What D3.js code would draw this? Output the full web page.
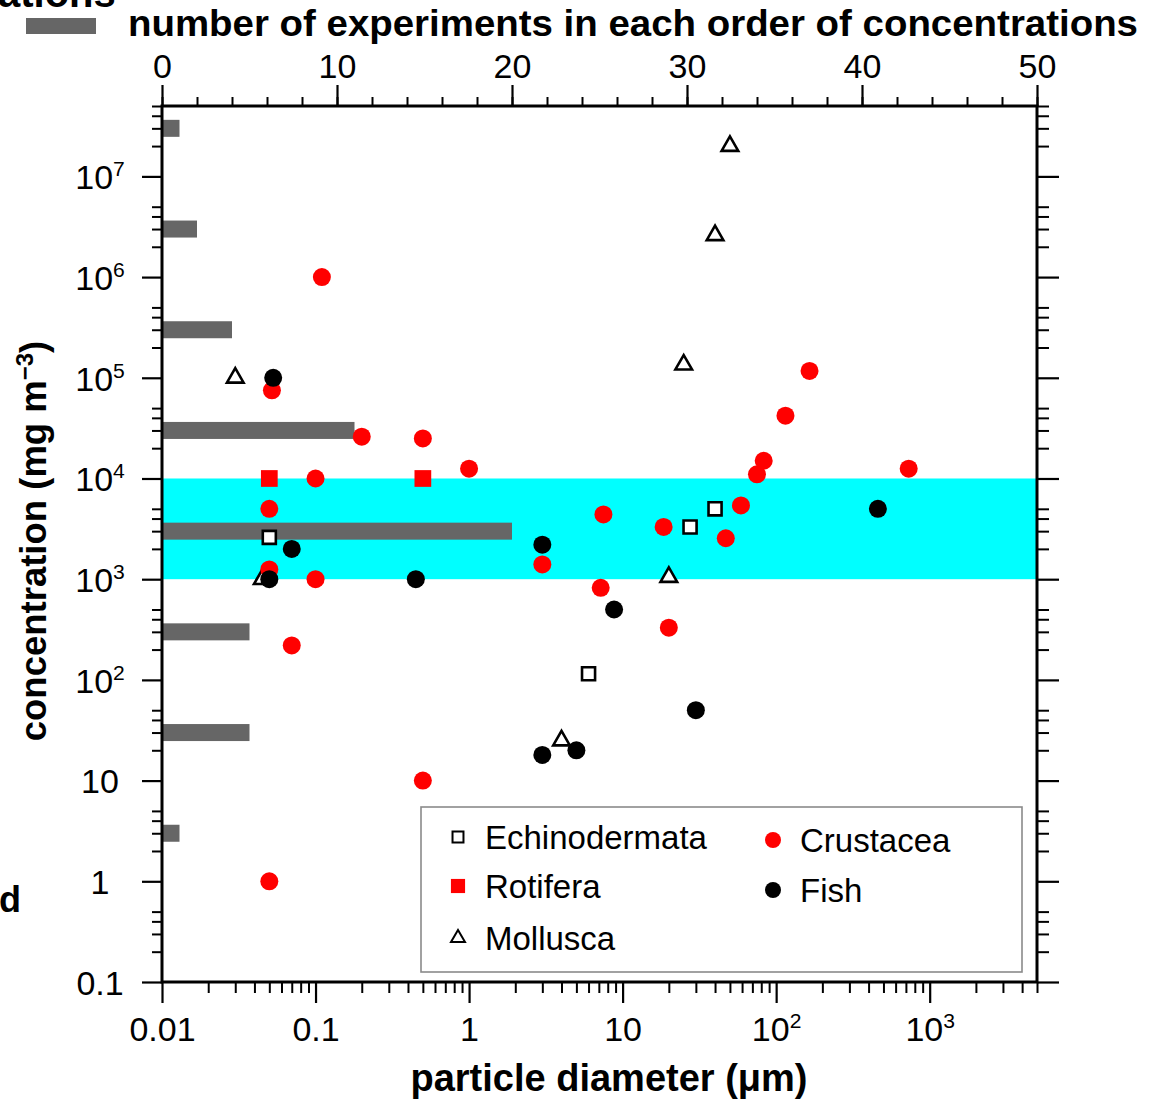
<!DOCTYPE html>
<html>
<head>
<meta charset="utf-8">
<script src="https://cdn.jsdelivr.net/npm/d3@7"></script>
<style>
  body { margin: 0; background: #fff; }
  svg { display: block; }
  text { font-family: "Liberation Sans", Arial, Helvetica, sans-serif; fill: #000; }
</style>
</head>
<body>
<div id="grafico"></div>
<script>
// bars: number of experiments per order of concentration (mg m-3)
const barConc = [3e7, 3e6, 3e5, 3e4, 3e3, 3e2, 30, 3];
const barCount = [1, 2, 4, 11, 20, 5, 5, 1];

// points: [particle diameter (um), concentration (mg m-3)]
const echinodermata = [[0.05, 2600], [6, 115], [27.5, 3300], [40, 5000]];
const rotifera = [[0.05, 1e4], [0.5, 1e4]];
const mollusca = [[0.03, 1e5], [50, 2e7], [40, 2.6e6], [25, 1.35e5], [20, 1050], [4, 25], [0.045, 1000]];
const crustacea = [[0.11, 1e6], [0.052, 7.5e4], [0.2, 2.6e4], [0.5, 2.5e4], [0.1, 1e4], [1, 1.25e4],
  [0.05, 5000], [0.05, 1250], [0.1, 1000], [0.07, 220], [0.5, 10], [0.05, 1], [3, 1400], [7.5, 4400],
  [7.2, 820], [18.5, 3300], [20, 330], [47, 2550], [59, 5400], [75, 1.1e4], [83, 1.5e4], [115, 4.2e4],
  [165, 1.17e5], [730, 1.25e4]];
const fish = [[0.053, 1e5], [0.07, 2000], [0.05, 1000], [0.45, 1000], [3, 2200], [8.8, 500], [30, 50],
  [3, 18], [5, 20], [460, 5000]];

// highlighted band
const bandRange = [1e3, 1e4];

// ticks and labels
const xTickValues = [0.01, 0.1, 1, 10, 100, 1000];
const xTickLabels = ["0.01", "0.1", "1", "10", "10^2", "10^3"];
const yTickValues = [0.1, 1, 10, 100, 1e3, 1e4, 1e5, 1e6, 1e7];
const yTickLabels = ["0.1", "1", "10", "10^2", "10^3", "10^4", "10^5", "10^6", "10^7"];
const countTicks = [0, 10, 20, 30, 40, 50];
const legendNames = ["Echinodermata", "Rotifera", "Mollusca", "Crustacea", "Fish"];

const ancho = 1155, alto = 1100;
const izq = 162, der = 1037, arriba = 106, abajo = 982;

const svg = d3.select("#grafico").append("svg")
  .attr("width", ancho)
  .attr("height", alto);

const x = d3.scaleLog().domain([0.01, 5000]).range([izq, der]);
const y = d3.scaleLog().domain([0.1, 5e7]).range([abajo, arriba]);
const xCount = d3.scaleLinear().domain([0, 50]).range([izq, der]);

// minor tick positions for log axes
const xMinor = [];
for (let d = -2; d <= 3; d++) {
  for (let k = 2; k <= 9; k++) {
    const v = +(k * Math.pow(10, d)).toPrecision(3);
    if (v <= 5000) xMinor.push(v);
  }
}
const yMinor = [];
for (let d = -1; d <= 7; d++) {
  for (let k = 2; k <= 5; k++) yMinor.push(+(k * Math.pow(10, d)).toPrecision(3));
}

// band
svg.append("rect")
  .attr("x", izq)
  .attr("y", y(bandRange[1]))
  .attr("width", der - izq)
  .attr("height", y(bandRange[0]) - y(bandRange[1]))
  .attr("fill", "#00ffff");

// bars
const barH = 17;
svg.selectAll("rect.barra")
  .data(barConc)
  .enter()
  .append("rect")
  .attr("class", "barra")
  .attr("x", izq)
  .attr("y", d => y(d) - barH / 2)
  .attr("width", (d, i) => xCount(barCount[i]) - izq)
  .attr("height", barH)
  .attr("fill", "#666666");

// helpers for labels with exponent
function ponerEtiqueta(sel, lab, size) {
  sel.text(null);
  const partes = lab.split("^");
  sel.append("tspan").text(partes[0]);
  if (partes.length > 1) {
    sel.append("tspan")
      .attr("dy", -size * 0.38)
      .attr("font-size", size * 0.62)
      .text(partes[1]);
  }
}

function estiloEje(g, w) {
  g.select(".domain").remove();
  g.selectAll("line").attr("stroke", "#000").attr("stroke-width", w);
}

const fs = 34;

// bottom axis
const gB = svg.append("g").attr("transform", `translate(0,${abajo})`);
gB.append("g").call(d3.axisBottom(x).tickValues(xMinor).tickSize(11).tickFormat("")).call(estiloEje, 2);
gB.append("g").call(d3.axisBottom(x).tickValues(xTickValues).tickSize(21)).call(estiloEje, 2.2)
  .call(g => g.selectAll("text")
    .attr("y", 59).attr("dy", 0)
    .attr("font-size", fs)
    .attr("font-family", null)
    .each(function (d, i) { ponerEtiqueta(d3.select(this), xTickLabels[i], fs); }));

// left axis
const gL = svg.append("g").attr("transform", `translate(${izq},0)`);
gL.append("g").call(d3.axisLeft(y).tickValues(yMinor).tickSize(10).tickFormat("")).call(estiloEje, 2);
gL.append("g").call(d3.axisLeft(y).tickValues(yTickValues).tickSize(20)).call(estiloEje, 2.2)
  .call(g => g.selectAll("text")
    .attr("x", -62).attr("dy", "0.36em")
    .attr("text-anchor", "middle")
    .attr("font-size", fs)
    .attr("font-family", null)
    .each(function (d, i) { ponerEtiqueta(d3.select(this), yTickLabels[i], fs); }));

// right axis
const gR = svg.append("g").attr("transform", `translate(${der},0)`);
gR.append("g").call(d3.axisRight(y).tickValues(yMinor).tickSize(12).tickFormat("")).call(estiloEje, 2);
gR.append("g").call(d3.axisRight(y).tickValues(yTickValues).tickSize(22).tickFormat("")).call(estiloEje, 2.2);

// top axis (counts)
const gT = svg.append("g").attr("transform", `translate(0,${arriba})`);
gT.append("g").call(d3.axisTop(xCount).tickValues(d3.range(0, 51, 2)).tickSize(9).tickFormat("")).call(estiloEje, 2);
gT.append("g").call(d3.axisTop(xCount).tickValues(countTicks).tickSize(21).tickPadding(7)).call(estiloEje, 2.2)
  .call(g => g.selectAll("text").attr("font-size", fs).attr("font-family", null));

// frame
svg.append("rect")
  .attr("x", izq).attr("y", arriba)
  .attr("width", der - izq).attr("height", abajo - arriba)
  .attr("fill", "none")
  .attr("stroke", "#000")
  .attr("stroke-width", 3);

// points
const sq = d3.symbol().type(d3.symbolSquare).size(170)();
const sqFill = d3.symbol().type(d3.symbolSquare).size(280)();
const tri = d3.symbol().type(d3.symbolTriangle).size(120)();

function dibujar(datos, forma, relleno, borde) {
  svg.append("g").selectAll("path")
    .data(datos)
    .enter()
    .append("path")
    .attr("d", forma)
    .attr("transform", d => `translate(${x(d[0])},${y(d[1])})`)
    .attr("fill", relleno)
    .attr("stroke", borde)
    .attr("stroke-width", borde === "none" ? 0 : 2.6);
}
function circulos(datos, color) {
  svg.append("g").selectAll("circle")
    .data(datos)
    .enter()
    .append("circle")
    .attr("cx", d => x(d[0]))
    .attr("cy", d => y(d[1]))
    .attr("r", 9)
    .attr("fill", color);
}

dibujar(mollusca, tri, "#fff", "#000");
dibujar(echinodermata, sq, "#fff", "#000");
dibujar(rotifera, sqFill, "#ff0000", "none");
circulos(crustacea, "#ff0000");
circulos(fish, "#000");

// legend box
const leg = svg.append("g");
leg.append("rect")
  .attr("x", 421).attr("y", 807)
  .attr("width", 601).attr("height", 165)
  .attr("fill", "#fff")
  .attr("stroke", "#8a8a8a")
  .attr("stroke-width", 1.6);

const legSq = d3.symbol().type(d3.symbolSquare).size(120)();
const legSqF = d3.symbol().type(d3.symbolSquare).size(200)();
const legTri = d3.symbol().type(d3.symbolTriangle).size(85)();
const legItems = [
  { px: 458, py: 837, tipo: "path", d: legSq, fill: "#fff", stroke: "#000" },
  { px: 458, py: 886, tipo: "path", d: legSqF, fill: "#ff0000", stroke: "none" },
  { px: 458, py: 938, tipo: "path", d: legTri, fill: "#fff", stroke: "#000" },
  { px: 773, py: 840, tipo: "circle", fill: "#ff0000" },
  { px: 773, py: 890, tipo: "circle", fill: "#000" }
];
legItems.forEach((it, i) => {
  if (it.tipo === "circle") {
    leg.append("circle").attr("cx", it.px).attr("cy", it.py).attr("r", 8).attr("fill", it.fill);
  } else {
    leg.append("path").attr("d", it.d)
      .attr("transform", `translate(${it.px},${it.py})`)
      .attr("fill", it.fill)
      .attr("stroke", it.stroke)
      .attr("stroke-width", it.stroke === "none" ? 0 : 2);
  }
  leg.append("text")
    .attr("x", it.px + 27)
    .attr("y", it.py + 12)
    .attr("font-size", 33)
    .text(legendNames[i]);
});

// top legend for bars
svg.append("rect")
  .attr("x", 26).attr("y", 18)
  .attr("width", 70).attr("height", 16)
  .attr("fill", "#666666");
svg.append("text")
  .attr("x", 128).attr("y", 36)
  .attr("font-size", 36)
  .attr("font-weight", "bold")
  .attr("textLength", 1010)
  .attr("lengthAdjust", "spacingAndGlyphs")
  .text("number of experiments in each order of concentrations");

// axis titles
svg.append("text")
  .attr("x", 609).attr("y", 1091)
  .attr("text-anchor", "middle")
  .attr("font-size", 38)
  .attr("font-weight", "bold")
  .text("particle diameter (\u03bcm)");

const yt = svg.append("text")
  .attr("transform", "translate(46,541) rotate(-90)")
  .attr("text-anchor", "middle")
  .attr("font-size", 36.5)
  .attr("font-weight", "bold");
yt.append("tspan").text("concentration (mg m");
yt.append("tspan").attr("dy", -13).attr("font-size", 24).text("\u22123");
yt.append("tspan").attr("dy", 13).text(")");

// remnants of neighbouring panels
svg.append("text").attr("x", -2).attr("y", 7)
  .attr("font-size", 40).attr("font-weight", "bold").text("ations");
svg.append("text").attr("x", -1).attr("y", 912)
  .attr("font-size", 36).attr("font-weight", "bold").text("d");
</script>
</body>
</html>
